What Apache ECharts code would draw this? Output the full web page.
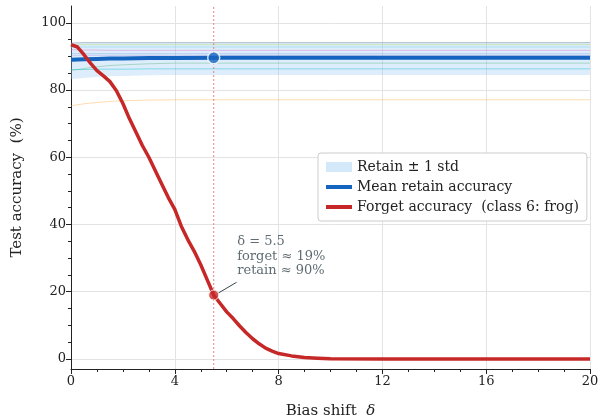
<!DOCTYPE html>
<html>
<head>
<meta charset="utf-8">
<script src="https://cdn.jsdelivr.net/npm/echarts@6/dist/echarts.min.js"></script>
<style>
  html, body { margin: 0; padding: 0; background: #fff; }
  #chart { width: 600px; height: 419px; }
</style>
</head>
<body>
<div id="chart"></div>
<script>
// retain side: per-class curves, band and mean
var deltaGrid  = [0, 0.5, 1, 1.5, 2, 3, 4, 6, 8, 12, 16, 20];
var bandUpper  = [94.0, 94.2, 94.3, 94.3, 94.3, 94.3, 94.3, 94.3, 94.3, 94.3, 94.3, 94.3];
var bandLower  = [83.3, 83.6, 83.9, 84.1, 84.2, 84.4, 84.5, 84.5, 84.5, 84.5, 84.5, 84.5];
var meanRetain = [89.0, 89.15, 89.25, 89.35, 89.4, 89.5, 89.55, 89.6, 89.6, 89.6, 89.6, 89.6];

var classRetain = [
  [94.0, 94.1, 94.1, 94.1, 94.1, 94.1, 94.1, 94.1, 94.1, 94.1, 94.1, 94.1],
  [93.4, 93.5, 93.5, 93.5, 93.5, 93.5, 93.5, 93.5, 93.5, 93.5, 93.5, 93.5],
  [92.7, 92.8, 92.8, 92.8, 92.8, 92.8, 92.8, 92.8, 92.8, 92.8, 92.8, 92.8],
  [92.0, 91.9, 91.9, 91.8, 91.8, 91.8, 91.8, 91.8, 91.8, 91.8, 91.8, 91.8],
  [90.8, 90.8, 90.8, 90.8, 90.8, 90.8, 90.8, 90.8, 90.8, 90.8, 90.8, 90.8],
  [90.2, 90.3, 90.3, 90.3, 90.3, 90.3, 90.3, 90.3, 90.3, 90.3, 90.3, 90.3],
  [85.8, 86.4, 86.9, 87.3, 87.5, 87.8, 88.0, 88.0, 88.0, 88.0, 88.0, 88.0],
  [86.1, 86.1, 86.2, 86.2, 86.2, 86.3, 86.3, 86.3, 86.3, 86.3, 86.3, 86.3],
  [75.3, 75.9, 76.3, 76.6, 76.8, 77.0, 77.1, 77.1, 77.1, 77.1, 77.1, 77.1]
];
var classColors = [
  'rgba(120,135,150,0.45)', 'rgba(188,220,120,0.50)', 'rgba(120,215,230,0.50)',
  'rgba(227,119,194,0.45)', 'rgba(100,150,220,0.35)', 'rgba(170,140,210,0.30)',
  'rgba(60,170,90,0.35)',   'rgba(23,190,207,0.45)',  'rgba(255,170,60,0.40)'
];

// forget side: class 6 (frog)
var forgetDelta = [0, 0.25, 0.5, 0.75, 1, 1.25, 1.5, 1.75, 2, 2.25, 2.5, 2.75, 3, 3.25, 3.5, 3.75,
  4, 4.25, 4.5, 4.75, 5, 5.25, 5.5, 5.75, 6, 6.25, 6.5, 6.75, 7, 7.25, 7.5, 7.75, 8, 8.5, 9, 9.5, 10, 12, 16, 20];
var forgetAcc = [93.5, 92.8, 90.5, 88.0, 85.8, 84.2, 82.5, 79.8, 76.0, 71.5, 67.5, 63.5, 60.0, 56.0, 52.0, 48.0,
  44.5, 39.5, 35.5, 32.0, 28.0, 23.5, 19.0, 16.5, 14.0, 12.0, 9.8, 7.8, 6.0, 4.5, 3.2, 2.3, 1.6, 0.9, 0.4, 0.2, 0.05, 0, 0, 0];

var markDelta = 5.5;
var markForget = 19;
var markRetain = 89.6;

var FONT = 'DejaVu Serif';
var yMin = -3, yMax = 105;
var gTop = 6, gBottom = 50, gLeft = 71, gRight = 10;
var pxPerUnit = (419 - gTop - gBottom) / (yMax - yMin);
// second grid carries the 0..100 tick scale
var tickTop = gTop + (yMax - 100) * pxPerUnit;
var tickBottom = gBottom + (0 - yMin) * pxPerUnit;

var lineIcon = 'path://M0,0 L26,0 L26,4 L0,4 Z';

var chart = echarts.init(document.getElementById('chart'), null, { renderer: 'canvas' });

var series = [];

series.push({
  type: 'custom',
  name: 'Retain ± 1 std',
  xAxisIndex: 0, yAxisIndex: 0,
  itemStyle: { color: '#d6eaf8' },
  data: deltaGrid.map(function (d, i) { return [d, bandLower[i], bandUpper[i]]; }),
  encode: { x: 0, y: [1, 2] },
  renderItem: function (params, api) {
    if (params.dataIndex !== 0) return;
    var pts = [];
    for (var i = 0; i < deltaGrid.length; i++) pts.push(api.coord([deltaGrid[i], bandUpper[i]]));
    for (var j = deltaGrid.length - 1; j >= 0; j--) pts.push(api.coord([deltaGrid[j], bandLower[j]]));
    return { type: 'polygon', shape: { points: pts }, style: { fill: 'rgba(150,200,245,0.32)' } };
  },
  z: 1
});

classRetain.forEach(function (vals, k) {
  series.push({
    type: 'line',
    xAxisIndex: 0, yAxisIndex: 0,
    data: deltaGrid.map(function (d, i) { return [d, vals[i]]; }),
    symbol: 'none',
    lineStyle: { color: classColors[k], width: 1 },
    silent: true,
    z: 2
  });
});

// vertical reference line at the marked delta, full axis height
series.push({
  type: 'line',
  xAxisIndex: 0, yAxisIndex: 0,
  data: [[markDelta, yMin], [markDelta, yMax]],
  symbol: 'none',
  lineStyle: { color: '#e88080', type: [2, 2], width: 1 },
  silent: true,
  z: 2
});

series.push({
  type: 'line',
  name: 'Mean retain accuracy',
  xAxisIndex: 0, yAxisIndex: 0,
  data: deltaGrid.map(function (d, i) { return [d, meanRetain[i]]; }),
  symbol: 'none',
  itemStyle: { color: '#1565c0' },
  lineStyle: { color: '#1565c0', width: 4 },
  z: 3
});

series.push({
  type: 'line',
  name: 'Forget accuracy  (class 6: frog)',
  xAxisIndex: 0, yAxisIndex: 0,
  data: forgetDelta.map(function (d, i) { return [d, forgetAcc[i]]; }),
  symbol: 'none',
  itemStyle: { color: '#c62828' },
  lineStyle: { color: '#c62828', width: 3.5, join: 'round' },
  z: 4
});

series.push({
  type: 'scatter',
  xAxisIndex: 0, yAxisIndex: 0,
  data: [[markDelta, markRetain]],
  symbolSize: 12,
  itemStyle: { color: '#1565c0', borderColor: '#fff', borderWidth: 1.5 },
  z: 5
});

series.push({
  type: 'scatter',
  xAxisIndex: 0, yAxisIndex: 0,
  data: [[markDelta, markForget]],
  symbolSize: 10,
  itemStyle: { color: '#c62828', borderColor: '#fff', borderWidth: 1 },
  label: {
    show: true,
    position: [29, -55],
    formatter: 'δ = ' + markDelta + '\nforget ≈ ' + markForget + '%\nretain ≈ ' + Math.round(markRetain) + '%',
    fontFamily: FONT,
    fontSize: 13,
    lineHeight: 14.5,
    color: '#37474f'
  },
  markLine: {
    silent: true,
    symbol: 'none',
    label: { show: false },
    lineStyle: { color: '#37474f', type: 'solid', width: 1 },
    data: [[{ coord: [6.38, 22.8] }, { coord: [5.68, 19.6] }]]
  },
  z: 5
});

var option = {
  animation: false,
  backgroundColor: '#fff',
  grid: [
    { left: gLeft, right: gRight, top: gTop, bottom: gBottom, containLabel: false, outerBoundsMode: 'none' },
    { left: gLeft, right: gRight, top: tickTop, bottom: tickBottom, containLabel: false, outerBoundsMode: 'none' }
  ],
  legend: {
    orient: 'vertical',
    left: 318, top: 153,
    padding: [7, 8, 7, 8],
    backgroundColor: '#fff',
    borderColor: '#cccccc',
    borderWidth: 1,
    borderRadius: 3,
    itemWidth: 26,
    itemHeight: 10,
    itemGap: 6,
    textStyle: { fontFamily: FONT, fontSize: 14, color: '#222' },
    data: [
      { name: 'Retain ± 1 std', icon: 'rect', itemStyle: { color: '#d3e8f9' } },
      { name: 'Mean retain accuracy', icon: lineIcon, itemStyle: { color: '#1565c0' } },
      { name: 'Forget accuracy  (class 6: frog)', icon: lineIcon, itemStyle: { color: '#c62828' } }
    ]
  },
  xAxis: [
    {
      gridIndex: 0, type: 'value', min: 0, max: 20, interval: 4,
      position: 'bottom',
      name: 'Bias shift  {i|δ}', nameLocation: 'middle', nameGap: 35,
      nameTextStyle: { fontFamily: FONT, fontSize: 15, color: '#222', rich: { i: { fontStyle: 'italic', fontFamily: FONT, fontSize: 15 } } },
      axisLine: { onZero: false, lineStyle: { color: '#222', width: 1 } },
      axisTick: { length: 5, lineStyle: { color: '#222' } },
      minorTick: { show: true, splitNumber: 4, length: 3, lineStyle: { color: '#222' } },
      axisLabel: { fontFamily: FONT, fontSize: 13, color: '#222', margin: 6 },
      splitLine: { show: true, lineStyle: { color: '#e3e3e3', width: 1 } }
    },
    { gridIndex: 1, type: 'value', min: 0, max: 20, show: false }
  ],
  yAxis: [
    {
      gridIndex: 0, type: 'value', min: yMin, max: yMax,
      name: 'Test accuracy  (%)', nameLocation: 'middle', nameGap: 46,
      nameTextStyle: { fontFamily: FONT, fontSize: 15, color: '#222' },
      axisLine: { show: true, onZero: false, lineStyle: { color: '#222', width: 1 } },
      axisTick: { show: false },
      axisLabel: { show: false },
      splitLine: { show: false }
    },
    {
      gridIndex: 1, type: 'value', min: 0, max: 100, interval: 20,
      axisLine: { show: false, onZero: false },
      axisTick: { show: true, length: 5, lineStyle: { color: '#222' } },
      minorTick: { show: true, splitNumber: 4, length: 3, lineStyle: { color: '#222' } },
      axisLabel: { fontFamily: FONT, fontSize: 13, color: '#222', margin: 5 },
      splitLine: { show: true, lineStyle: { color: '#e3e3e3', width: 1 } }
    }
  ],
  series: series
};

chart.setOption(option);
</script>
</body>
</html>
